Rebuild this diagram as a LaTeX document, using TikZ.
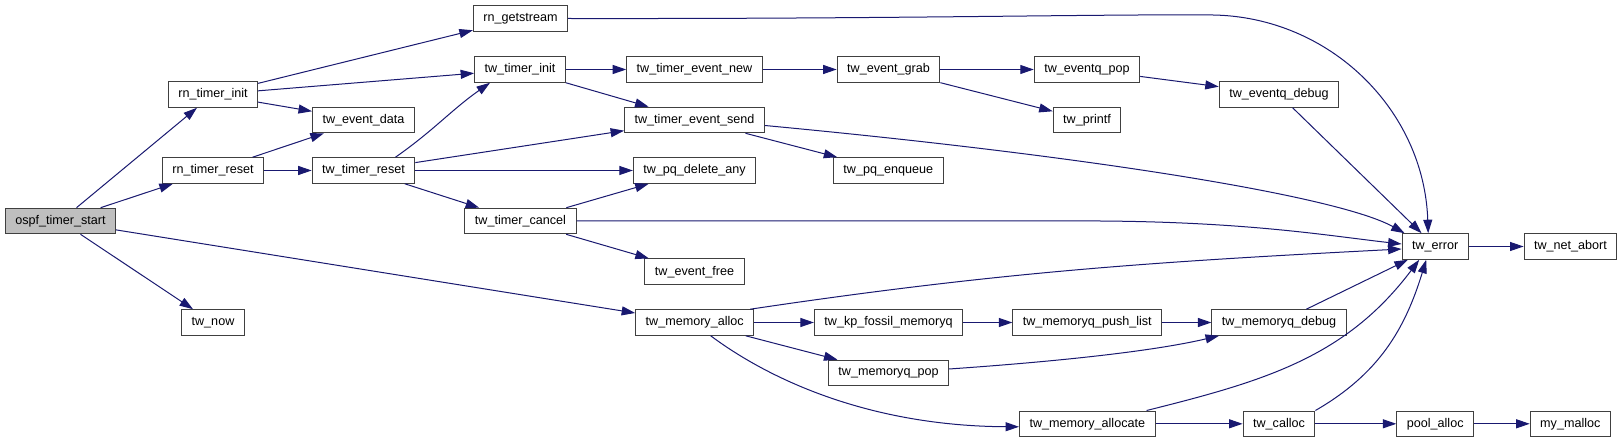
\documentclass[tikz,border=0pt]{standalone}
\usepackage{fontspec}
\setmainfont{Liberation Sans}
\usetikzlibrary{arrows.meta}
\definecolor{EdgeBlue}{RGB}{25 , 25,112}
\definecolor{BoxLine} {RGB}{64 , 64, 64}
\definecolor{RootGray}{RGB}{191,191,191}
\tikzset{
  fn/.style={
    rectangle, draw=BoxLine, fill=white, line width=1pt,
    font=\fontsize{12.6}{14}\selectfont,
    inner xsep=10pt, inner ysep=0pt, minimum height=25.6pt
  },
  rootfn/.style={fn, fill=RootGray},
  call/.style={-{Triangle[length=13.5pt,width=9pt]},
               line width=1pt, color=EdgeBlue}
}
\begin{document}
\begin{tikzpicture}[x=1pt,y=-1pt]
  \fill[white] (0,0) rectangle (1624,443);

  \node[rootfn] (start)     at (60.5,221)    {ospf\_timer\_start};
  \node[fn]     (rinit)     at (213,94.5)    {rn\_timer\_init};
  \node[fn]     (rreset)    at (213,170.5)   {rn\_timer\_reset};
  \node[fn]     (now)       at (213,322.5)   {tw\_now};
  \node[fn]     (edata)     at (363.5,120)   {tw\_event\_data};
  \node[fn]     (treset)    at (363.5,170.5) {tw\_timer\_reset};
  \node[fn]     (getstream) at (520.5,18.5)  {rn\_getstream};
  \node[fn]     (tinit)     at (520,69.5)    {tw\_timer\_init};
  \node[fn]     (tcancel)   at (520.5,221)   {tw\_timer\_cancel};
  \node[fn]     (tenew)     at (694.5,69.5)  {tw\_timer\_event\_new};
  \node[fn]     (tesend)    at (694.5,120)   {tw\_timer\_event\_send};
  \node[fn]     (pqdel)     at (694.5,170.5) {tw\_pq\_delete\_any};
  \node[fn]     (efree)     at (694.5,271.7) {tw\_event\_free};
  \node[fn]     (memalloc)  at (694.7,322.5) {tw\_memory\_alloc};
  \node[fn]     (egrab)     at (888.5,69.5)  {tw\_event\_grab};
  \node[fn]     (pqenq)     at (888.3,170.5) {tw\_pq\_enqueue};
  \node[fn]     (fossil)    at (888.5,322.5) {tw\_kp\_fossil\_memoryq};
  \node[fn]     (mqpop)     at (888.5,373)   {tw\_memoryq\_pop};
  \node[fn]     (eqpop)     at (1087,69.5)   {tw\_eventq\_pop};
  \node[fn]     (twprintf)  at (1087,120)    {tw\_printf};
  \node[fn]     (pushlist)  at (1087.3,322.5){tw\_memoryq\_push\_list};
  \node[fn]     (allocate)  at (1087.3,423.8){tw\_memory\_allocate};
  \node[fn]     (eqdebug)   at (1279,94.5)   {tw\_eventq\_debug};
  \node[fn]     (mqdebug)   at (1279,322.5)  {tw\_memoryq\_debug};
  \node[fn]     (calloc)    at (1279,423.8)  {tw\_calloc};
  \node[fn]     (error)     at (1435.2,246.5){tw\_error};
  \node[fn]     (poolalloc) at (1435.2,423.8){pool\_alloc};
  \node[fn]     (netabort)  at (1570.5,246.5){tw\_net\_abort};
  \node[fn]     (mymalloc)  at (1570.3,423.8){my\_malloc};

  \foreach \a/\b in {start/rinit, start/rreset, start/now, start/memalloc,
                     rinit/getstream, rinit/tinit, rinit/edata,
                     rreset/edata, rreset/treset,
                     treset/tesend, treset/pqdel, treset/tcancel,
                     tinit/tenew, tinit/tesend, tenew/egrab,
                     egrab/eqpop, egrab/twprintf, eqpop/eqdebug, eqdebug/error,
                     tesend/pqenq, tcancel/pqdel, tcancel/efree,
                     memalloc/fossil, memalloc/mqpop, fossil/pushlist,
                     pushlist/mqdebug, mqdebug/error,
                     allocate/calloc, calloc/poolalloc, poolalloc/mymalloc,
                     error/netabort}
    \draw[call] (\a) -- (\b);

  % curved calls
  \draw[call] ([xshift=32pt]treset.north) to[out=35,in=-145] ([xshift=-30pt]tinit.south);
  \draw[call] (getstream.east) .. controls (900,19) and (1100,14) .. (1213,15)
              .. controls (1330,17) and (1424,110) .. ([xshift=-7pt]error.north);
  \draw[call] ([yshift=-5.5pt]tesend.east) .. controls (1100,157) and (1340,197)
              .. ([xshift=3pt]error.north west);
  \draw[call] (tcancel.east) -- (1100,221) .. controls (1250,222) and (1330,236)
              .. ([yshift=2.5pt]error.west);
  \draw[call] ([xshift=-4pt]memalloc.north east) .. controls (1000,272) and (1150,262)
              .. ([yshift=-2.5pt]error.west);
  \draw[call] ([xshift=16pt]memalloc.south) .. controls (770,380) and (870,426)
              .. ([yshift=-3pt]allocate.west);
  \draw[call] ([yshift=4pt]mqpop.east) .. controls (1050,362) and (1150,352)
              .. ([xshift=-60pt]mqdebug.south);
  \draw[call] ([xshift=-9pt]allocate.north east) to[out=14,in=-127] ([xshift=-16pt]error.south);
  \draw[call] (calloc.north east) to[out=30,in=-107] ([xshift=-9pt]error.south);
\end{tikzpicture}
\end{document}
